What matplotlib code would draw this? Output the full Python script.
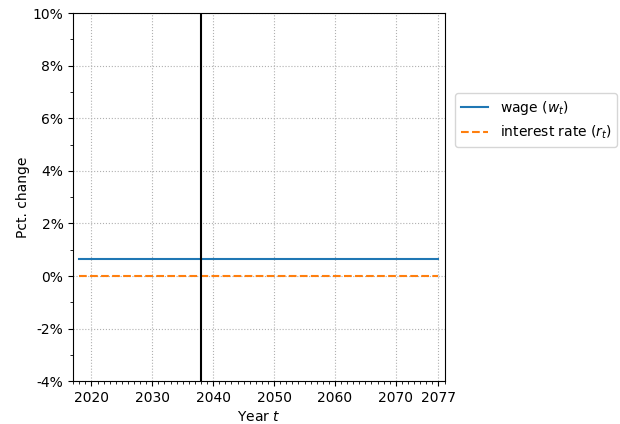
import matplotlib
matplotlib.use('Agg')
import matplotlib.pyplot as plt
import numpy as np
from matplotlib.ticker import MultipleLocator, PercentFormatter

plt.rcParams['axes.unicode_minus'] = False

# data
years = list(range(2018, 2078))
wage = [0.66] * len(years)
interest = [0.0] * len(years)
shock_year = 2038
x_ticks = [2020, 2030, 2040, 2050, 2060, 2070, 2077]

fig = plt.figure(figsize=(6.2, 4.24), dpi=100)
ax = fig.add_axes([0.118, 0.101, 0.6, 0.868])

ax.plot(years, wage, color='C0', label='wage ($w_t$)')
ax.plot(years, interest, color='C1', linestyle='--', label='interest rate ($r_t$)')
ax.axvline(shock_year, color='k')

ax.set_xlim(2017, 2078.1)
ax.set_ylim(-4, 10)
ax.set_xticks(x_ticks)
ax.xaxis.set_minor_locator(MultipleLocator(1))
ax.yaxis.set_major_locator(MultipleLocator(2))
ax.yaxis.set_minor_locator(MultipleLocator(1))
ax.yaxis.set_major_formatter(PercentFormatter(decimals=0))
ax.grid(True, which='major', linestyle=':', color='#b0b0b0')

ax.set_xlabel('Year $t$')
ax.set_ylabel('Pct. change', labelpad=2)
ax.legend(loc='center left', bbox_to_anchor=(1.008, 0.71))

fig.savefig('out.png', dpi=100)
